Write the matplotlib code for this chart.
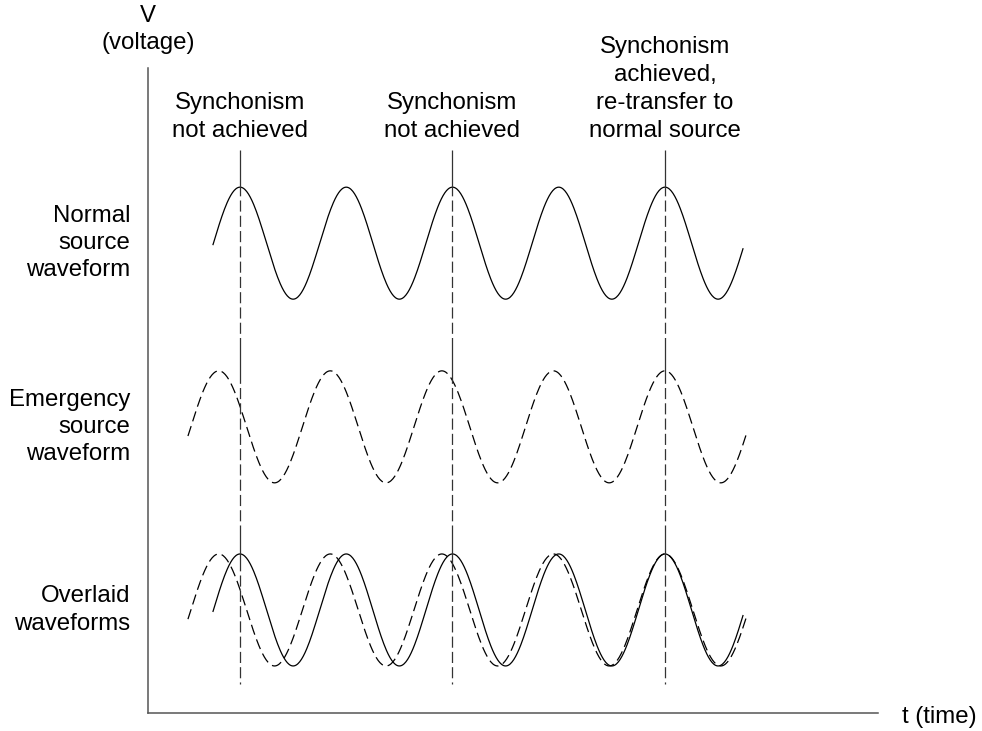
import numpy as np
import matplotlib
matplotlib.use("Agg")
import matplotlib.pyplot as plt

plt.rcParams['font.family'] = ['Liberation Sans', 'DejaVu Sans']
plt.rcParams['lines.scale_dashes'] = False

# time in cycles of the normal source, voltage in units of waveform amplitude
normal_period = 1.0
emergency_period = 1.05
sync_peaks = [0.866, 2.861, 4.866]          # instants of the three synchronism checks
normal_span = [0.612, 5.60]
emergency_span = [0.376, 5.63]
band_centres = [8.39, 5.11, 1.84]            # normal, emergency, overlaid
band_labels = ["Normal\nsource\nwaveform", "Emergency\nsource\nwaveform", "Overlaid\nwaveforms"]
sync_labels = ["Synchonism\nnot achieved", "Synchonism\nnot achieved",
               "Synchonism\nachieved,\nre-transfer to\nnormal source"]
sync_label_y = [10.64, 10.64, 11.14]
marker_span = [0.52, 10.05]


def wave(t0, t1, period, offset):
    t = np.linspace(t0, t1, 600)
    return t, offset + np.cos(2 * np.pi * (t - sync_peaks[-1]) / period)


fig = plt.figure(figsize=(9.82, 7.31), dpi=100)
ax = fig.add_axes([148 / 982, 18 / 731, 730 / 982, 645 / 731])
ax.set_xlim(0, 6.871)
ax.set_ylim(0, 11.518)
for s in ['top', 'right']:
    ax.spines[s].set_visible(False)
for s in ['left', 'bottom']:
    ax.spines[s].set_color('#555555')
    ax.spines[s].set_linewidth(1.1)
ax.set_xticks([])
ax.set_yticks([])

solid = dict(color='black', lw=0.9)
dashed = dict(color='black', lw=0.9, dashes=(7.5, 3.6))

# normal source
t, v = wave(*normal_span, normal_period, band_centres[0])
ax.plot(t, v, **solid)
# emergency source
t, v = wave(*emergency_span, emergency_period, band_centres[1])
ax.plot(t, v, **dashed)
# overlaid
t, v = wave(*emergency_span, emergency_period, band_centres[2])
ax.plot(t, v, **dashed)
t, v = wave(*normal_span, normal_period, band_centres[2])
ax.plot(t, v, **solid)

# synchronism check lines
check_dash = (33,) + (3, 8) * 9 + (3,)
for x in sync_peaks:
    ax.plot([x, x], [marker_span[1], marker_span[0]], color='#333333', lw=0.9,
            dashes=check_dash)

for x, y, s in zip(sync_peaks, sync_label_y, sync_labels):
    ax.text(x, y, s, ha='center', va='center', fontsize=17.3, linespacing=1.34,
            clip_on=False)

for y, s in zip(band_centres, band_labels):
    ax.text(-0.169, y, s, ha='right', va='center', multialignment='right',
            fontsize=17.3, linespacing=1.3, clip_on=False)

ax.text(0, 12.21, "V\n(voltage)", ha='center', va='center', fontsize=17.3,
        linespacing=1.3, clip_on=False)
ax.text(7.096, -0.07, "t (time)", ha='left', va='center', fontsize=17.3,
        clip_on=False)

fig.savefig("out.png", dpi=100, facecolor='white')
